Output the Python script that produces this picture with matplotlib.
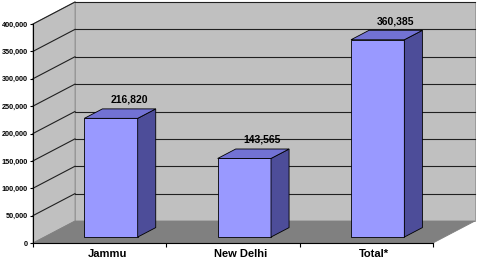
import matplotlib
matplotlib.use("Agg")
import matplotlib.pyplot as plt
from matplotlib.patches import Polygon

plt.rcParams['font.family'] = ['Liberation Sans', 'DejaVu Sans']

categories = ['Jammu', 'New Delhi', 'Total*']
values = [216820, 143565, 360385]
yticks = [0, 50000, 100000, 150000, 200000, 250000, 300000, 350000, 400000]

W, H, DPI = 479, 260, 100
fig = plt.figure(figsize=(W / DPI, H / DPI), dpi=DPI)
# front plane of the 3d box
ax = fig.add_axes([33 / W, 17 / H, 400 / W, 219 / H])
ax.set_xlim(-0.5, len(categories) - 0.5)
ax.set_ylim(0, 400000)
ax.patch.set_visible(False)

# depth of the box, 42 px right and 22 px up, in data units
px_x = 400 / len(categories)
px_y = 219 / 400000
DX = 42 / px_x
DY = 22 / px_y
f0, f1 = 0.27, 0.70   # bar front / back depth
bw = 0.4

wall = '#c0c0c0'
floor = '#808080'
x0, x1 = -0.5, len(categories) - 0.5
ytop = yticks[-1]

# walls and floor
ax.add_patch(Polygon([(x0, 0), (x0, ytop), (x0 + DX, ytop + DY), (x0 + DX, DY)],
                     closed=True, fc=wall, ec='#909090', lw=0.6, clip_on=False, zorder=1))
ax.add_patch(Polygon([(x0 + DX, DY), (x0 + DX, ytop + DY), (x1 + DX, ytop + DY), (x1 + DX, DY)],
                     closed=True, fc=wall, ec='#909090', lw=0.6, clip_on=False, zorder=1))
ax.add_patch(Polygon([(x0, 0), (x1, 0), (x1 + DX, DY), (x0 + DX, DY)],
                     closed=True, fc=floor, ec=floor, lw=0.6, clip_on=False, zorder=1))

# gridlines on back and side wall
for v in yticks[1:]:
    ax.plot([x0 + DX, x1 + DX], [v + DY, v + DY], color='#202020', lw=0.8, clip_on=False, zorder=2)
    ax.plot([x0, x0 + DX], [v, v + DY], color='#202020', lw=0.8, clip_on=False, zorder=2)

# bars
for i, v in enumerate(values):
    xc = i + f0 * DX
    b = f0 * DY
    xl, xr = xc - bw / 2, xc + bw / 2
    ddx, ddy = (f1 - f0) * DX, (f1 - f0) * DY
    ax.bar(xc, v, bw, bottom=b, color='#9999ff', edgecolor='black', lw=0.6, zorder=3)
    ax.add_patch(Polygon([(xr, b), (xr, b + v), (xr + ddx, b + v + ddy), (xr + ddx, b + ddy)],
                         closed=True, fc='#4d4d99', ec='black', lw=0.6, zorder=3))
    ax.add_patch(Polygon([(xl, b + v), (xr, b + v), (xr + ddx, b + v + ddy), (xl + ddx, b + v + ddy)],
                         closed=True, fc='#7272d4', ec='black', lw=0.6, zorder=3))
    ax.annotate(f'{v:,}', (i + f1 * DX, v + f1 * DY), xytext=(0, 3), textcoords='offset points',
                ha='center', va='bottom', fontsize=7.5, fontweight='bold')

# axes
for s in ['top', 'right']:
    ax.spines[s].set_visible(False)
ax.spines['left'].set_linewidth(0.8)
ax.spines['bottom'].set_linewidth(0.8)
ax.spines['left'].set_zorder(4)
ax.spines['bottom'].set_zorder(4)
ax.set_yticks(yticks)
ax.set_yticklabels([f'{t:,}' for t in yticks], fontweight='bold')
ax.tick_params(axis='y', direction='out', length=2.2, width=0.8, pad=1.5, labelsize=5.2)
ax.set_xticks([i + 0.06 for i in range(len(categories))])
ax.set_xticklabels(categories, fontsize=8, fontweight='bold')
ax.set_xticks([x0 + k for k in range(len(categories) + 1)], minor=True)
ax.tick_params(axis='x', which='major', length=0, pad=4.5)
ax.tick_params(axis='x', which='minor', direction='out', length=3, width=0.8)

fig.savefig('out.png', dpi=DPI, facecolor='white')
